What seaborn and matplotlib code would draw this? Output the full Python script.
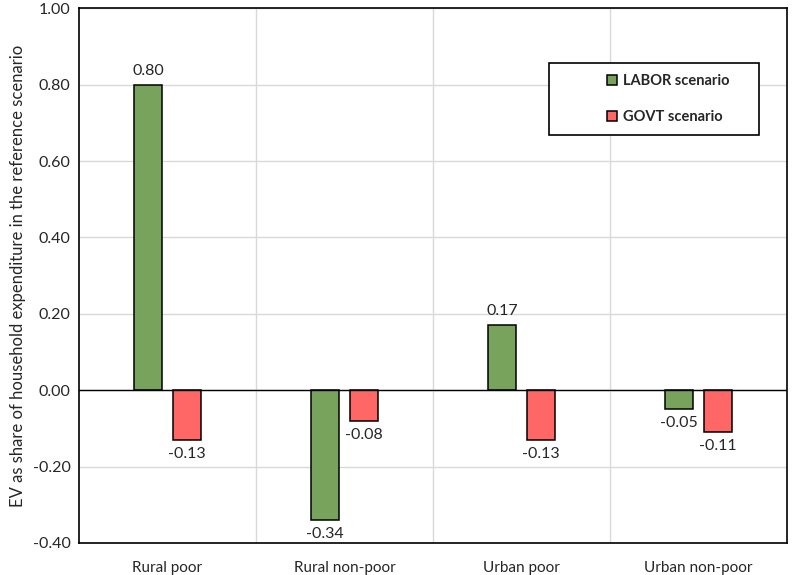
import pandas as pd
import seaborn as sns
from matplotlib import pyplot as plt
from matplotlib.patches import Rectangle
from matplotlib.ticker import FormatStrFormatter, FixedLocator

categories = ['Rural poor', 'Rural non-poor', 'Urban poor', 'Urban non-poor']
labor = [0.80, -0.34, 0.17, -0.05]
govt = [-0.13, -0.08, -0.13, -0.11]
scenarios = ['LABOR scenario', 'GOVT scenario']
colors = ['#78A35C', '#FF6666']

df = pd.DataFrame({
    'group': categories * 2,
    'scenario': [scenarios[0]] * 4 + [scenarios[1]] * 4,
    'value': labor + govt,
})

sns.set_style('white')
plt.rcParams['font.family'] = ['Lato', 'DejaVu Sans']

fig = plt.figure(figsize=(7.97, 5.75), dpi=100)
ax = fig.add_axes([0.099, 0.0557, 0.8885, 0.930])

sns.barplot(data=df, x='group', y='value', hue='scenario', palette=colors,
            saturation=1, width=0.44, gap=0.3, edgecolor='black', linewidth=1.1,
            errorbar=None, ax=ax, legend=True)

ax.set_ylim(-0.40, 1.00)
ax.set_xlim(-0.5, 3.5)
ax.set_yticks([-0.4, -0.2, 0.0, 0.2, 0.4, 0.6, 0.8, 1.0])
ax.yaxis.set_major_formatter(FormatStrFormatter('%.2f'))
ax.xaxis.set_minor_locator(FixedLocator([0.5, 1.5, 2.5]))
ax.grid(True, axis='y', which='major', color='#D9D9D9', linewidth=1)
ax.grid(True, axis='x', which='minor', color='#D9D9D9', linewidth=1)
ax.grid(False, axis='x', which='major')
ax.set_axisbelow(True)
ax.axhline(0, color='black', linewidth=1, zorder=1.5)

ax.tick_params(axis='both', which='both', length=0, labelsize=11.5, colors='#262626')
ax.tick_params(axis='x', labelsize=11, pad=13)
ax.tick_params(axis='y', pad=6)
ax.set_xlabel('')
ax.set_ylabel('EV as share of household expenditure in the reference scenario',
              fontsize=12, color='#262626', labelpad=5)

for spine in ax.spines.values():
    spine.set_visible(True)
    spine.set_color('black')
    spine.set_linewidth(1.2)

for cont in ax.containers:
    ax.bar_label(cont, fmt='%.2f', padding=5, fontsize=11.5, color='#262626')

# legend with separate box like excel
ax.add_patch(Rectangle((0.664, 0.762), 0.297, 0.136, transform=ax.transAxes,
                       facecolor='white', edgecolor='black', linewidth=1.2, zorder=4))
leg = ax.legend(loc='center left', bbox_to_anchor=(0.727, 0.830), frameon=False,
                handlelength=0.7, handleheight=0.7, handletextpad=0.4,
                labelspacing=1.5, prop={'weight': 'bold', 'size': 10.5})
leg.set_zorder(5)
for h in leg.legend_handles:
    h.set_edgecolor('black')

fig.savefig('out.png', dpi=100)
